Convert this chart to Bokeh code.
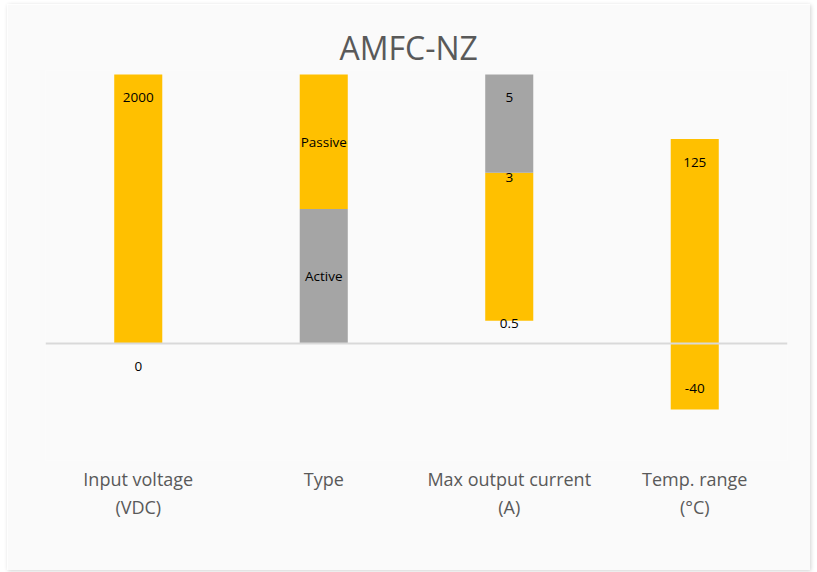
from bokeh.plotting import figure
from bokeh.models import Range1d, Span, ColumnDataSource, FactorRange
from bokeh.transform import factor_cmap
from bokeh.core.properties import value
from bokeh.embed import file_html
from bokeh.resources import INLINE

# ---- data ----
categories = ["Input voltage\n(VDC)", "Type", "Max output current\n(A)", "Temp. range\n(°C)"]

# bar segments (display heights, % of full bar)
seg_category = [categories[0], categories[1], categories[1], categories[2], categories[2], categories[3]]
seg_series = ["A", "B", "A", "A", "B", "A"]
seg_bottom = [0, 0, 50, 8.5, 63.5, -24.5]
seg_top = [100, 50, 100, 63.5, 100, 76]

# data labels
label_category = [categories[0], categories[0], categories[1], categories[1],
                  categories[2], categories[2], categories[2], categories[3], categories[3]]
label_text = ["2000", "0", "Passive", "Active", "5", "3", "0.5", "125", "-40"]
label_anchor = [100, 0, 75, 25, 100, 63.5, 8.5, 76, -24.5]
label_shift = [23, 23, 0, 0, 23, 5, 3, 23, -21]

YELLOW = "#FFC000"
GRAY = "#A5A5A5"
BG = "#FAFAFA"

p = figure(width=803, height=566, output_backend="svg", toolbar_location=None,
           x_range=FactorRange(*categories, range_padding=0),
           y_range=Range1d(-43.49, 101.49),
           title="AMFC-NZ",
           min_border_left=38, min_border_right=23, min_border_top=66, min_border_bottom=110)

p.background_fill_color = BG
p.border_fill_color = BG
p.outline_line_color = None
p.xgrid.visible = False
p.ygrid.visible = False
p.yaxis.visible = False
p.x_range.factor_padding = 0

p.title.align = "left"
p.title.offset = 294
p.title.text_font = "Open Sans"
p.title.text_font_size = "32px"
p.title.text_font_style = "normal"
p.title.text_color = "#595959"
p.title.standoff = 3

xa = p.xaxis[0]
xa.axis_line_color = None
xa.major_tick_line_color = None
xa.minor_tick_line_color = None
xa.major_label_text_font = "Open Sans"
xa.major_label_text_font_size = "18px"
xa.major_label_text_color = "#595959"
xa.major_label_standoff = 0

seg_src = ColumnDataSource(dict(x=seg_category, s=seg_series, bottom=seg_bottom, top=seg_top))
p.vbar(x="x", bottom="bottom", top="top", width=0.259, source=seg_src, line_color=None,
       fill_color=factor_cmap("s", [YELLOW, GRAY], ["A", "B"]))

p.add_layout(Span(location=0, dimension="width", line_color="#D9D9D9", line_width=2))

lbl_src = ColumnDataSource(dict(x=label_category, y=label_anchor, t=label_text, o=label_shift))
p.text(x="x", y="y", text="t", y_offset="o", source=lbl_src, text_align="center",
       text_baseline="middle", text_font=value("Open Sans"), text_font_size="13.5px",
       text_color="#000000")

p.styles = {"margin": "4px 0px 0px 7px", "box-shadow": "1px 1px 4px rgba(0,0,0,0.18)"}

open("out.html", "w").write(file_html(p, INLINE))
